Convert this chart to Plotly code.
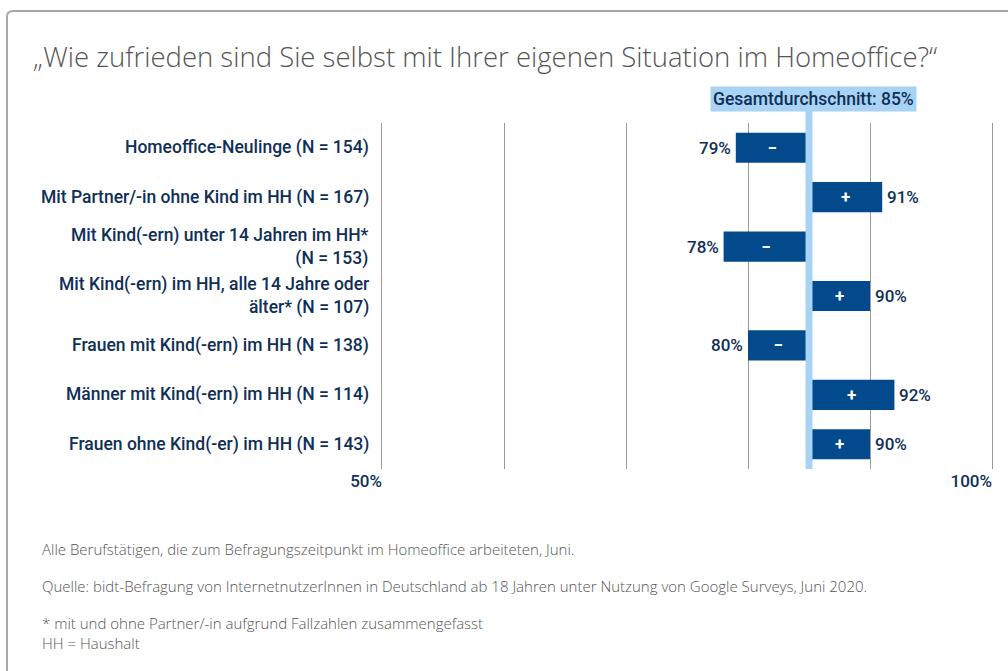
import plotly.graph_objects as go

categories = [
    "Homeoffice-Neulinge (N = 154)",
    "Mit Partner/-in ohne Kind im HH (N = 167)",
    "Mit Kind(-ern) unter 14 Jahren im HH*<br>(N = 153)",
    "Mit Kind(-ern) im HH, alle 14 Jahre oder<br>älter* (N = 107)",
    "Frauen mit Kind(-ern) im HH (N = 138)",
    "Männer mit Kind(-ern) im HH (N = 114)",
    "Frauen ohne Kind(-er) im HH (N = 143)",
]
values = [79, 91, 78, 90, 80, 92, 90]
average = 85
tick_vals = [50, 60, 70, 80, 90, 100]
tick_text = ["50%", "", "", "", "", "100%"]

title = "„Wie zufrieden sind Sie selbst mit Ihrer eigenen Situation im Homeoffice?“"
avg_label = "Gesamtdurchschnitt: 85%"
notes = [
    "Alle Berufstätigen, die zum Befragungszeitpunkt im Homeoffice arbeiteten, Juni.",
    "Quelle: bidt-Befragung von InternetnutzerInnen in Deutschland ab 18 Jahren unter Nutzung von Google Surveys, Juni 2020.",
    "* mit und ohne Partner/-in aufgrund Fallzahlen zusammengefasst<br>HH = Haushalt",
]

W, H = 1008, 671
L, R, T, B = 382, 16, 123, 202
PW, PH = W - L - R, H - T - B
NAVY = "#0f2f57"
BAR = "#034a8c"
LIGHT = "#a8d3f5"
GRAY = "#555555"
FONT = "Roboto"
TFONT = "Open Sans"


def px_x(px):
    return (px - L) / PW


def px_y(py):
    return (H - B - py) / PH


signs = ["+" if v > average else "−" for v in values]

fig = go.Figure()
fig.add_trace(go.Bar(
    y=categories,
    x=[v - average for v in values],
    base=average,
    orientation="h",
    width=0.61,
    marker=dict(color=BAR, line=dict(width=0)),
    text=signs,
    textposition="inside",
    insidetextanchor="middle",
    textfont=dict(color="white", size=17, family=FONT, weight="bold"),
    hoverinfo="skip",
    showlegend=False,
))

annotations = []
for c, v in zip(categories, values):
    annotations.append(dict(
        x=v, y=c, xref="x", yref="y",
        text=f"{v}%", showarrow=False,
        xanchor="left" if v > average else "right",
        xshift=3 if v > average else -3,
        font=dict(family=FONT, size=17, color=NAVY, weight=500),
    ))
    annotations.append(dict(
        x=0, y=c, xref="paper", yref="y",
        text=c, showarrow=False, xanchor="right", xshift=-11,
        align="right",
        font=dict(family=FONT, size=17.5, color=NAVY, weight=500),
    ))

annotations.append(dict(
    x=average, y=px_y(98.5), xref="x", yref="paper",
    text=avg_label, showarrow=False, xanchor="center", yanchor="middle",
    xshift=4, bgcolor=LIGHT, borderpad=2,
    font=dict(family=FONT, size=17.5, color=NAVY, weight=500),
))

note_y = [549, 586, 632.5]
for t, y in zip(notes, note_y):
    annotations.append(dict(
        x=px_x(40), y=px_y(y), xref="paper", yref="paper",
        text=t, showarrow=False, xanchor="left", yanchor="middle",
        align="left",
        font=dict(family=TFONT, size=15, color=GRAY, weight=300),
    ))

shapes = [
    dict(type="line", xref="x", yref="paper", x0=average, x1=average,
         y0=0, y1=px_y(109), line=dict(color=LIGHT, width=7), layer="above"),
    dict(type="path", xref="paper", yref="paper",
         path=(f"M {px_x(7)},{px_y(700)} L {px_x(7)},{px_y(17)} "
               f"Q {px_x(7)},{px_y(11)} {px_x(13)},{px_y(11)} L {px_x(1030)},{px_y(11)}"),
         line=dict(color="#a8a8a8", width=2)),
]

fig.update_layout(
    width=W, height=H,
    margin=dict(l=L, r=R, t=T, b=B, autoexpand=False),
    paper_bgcolor="white", plot_bgcolor="white",
    title=dict(text=title, x=33 / W, xanchor="left", y=1 - 57 / H, yanchor="middle",
               yref="container", xref="container",
               font=dict(family=TFONT, size=27.5, color=GRAY, weight=300)),
    xaxis=dict(range=[50, 100], tickvals=tick_vals, ticktext=tick_text,
               showgrid=True, gridcolor="#9a9a9a", gridwidth=1,
               zeroline=False, showline=False, ticks="",
               ticklabelposition="outside left",
               tickfont=dict(family=FONT, size=17, color=NAVY, weight=500),
               fixedrange=True),
    yaxis=dict(categoryorder="array", categoryarray=categories,
               range=[6.5, -0.5], showticklabels=False, showgrid=False,
               zeroline=False, showline=True, mirror=True,
               linecolor="#9a9a9a", linewidth=1, ticks="", fixedrange=True),
    annotations=annotations,
    shapes=shapes,
    bargap=0.39,
)

fig.write_html("out.html", config={"displayModeBar": False},
               post_script="document.body.style.margin='0';")
